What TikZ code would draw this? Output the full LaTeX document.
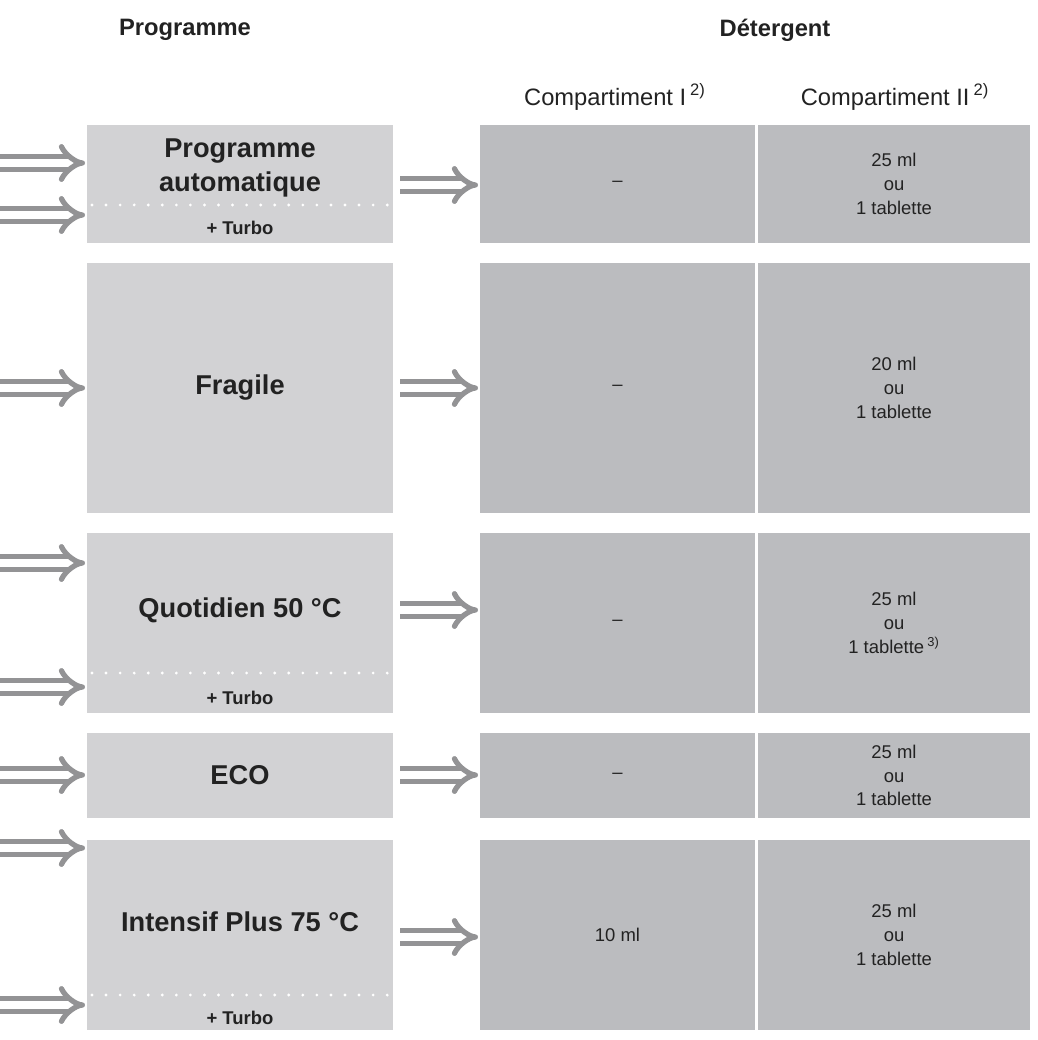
\documentclass[tikz,border=0pt]{standalone}
\usepackage{fontspec}
\setmainfont{Liberation Sans}
\usetikzlibrary{arrows.meta,positioning}
\definecolor{progfill}{HTML}{D2D2D4}
\definecolor{detfill}{HTML}{BBBCBF}
\definecolor{arrowgray}{HTML}{939395}
\definecolor{ink}{HTML}{222222}
\tikzset{
  prog/.style={ink,draw=none,font=\fontsize{15.5}{19.5}\selectfont\bfseries,align=center},
  det/.style={ink,draw=none,font=\fontsize{10.5}{13.5}\selectfont,align=center},
  head/.style={ink,font=\fontsize{13.5}{16}\selectfont\bfseries},
  colhead/.style={ink,font=\fontsize{13.5}{16}\selectfont},
  turbo/.style={ink,font=\fontsize{10.5}{12}\selectfont\bfseries},
  sep/.style={white,line width=1.8pt,line cap=round,dash pattern=on 0pt off 8pt},
  feed/.style={arrowgray,double=white,double distance=4pt,line width=3pt,
    -{Implies[length=9pt,width=20pt]}}
}
\begin{document}
\begin{tikzpicture}[x=0.02cm,y=-0.02cm]
  \useasboundingbox (0,0) rectangle (1037,1040);
  % headers
  \node[head] (hprog) at (185,30) {Programme};
  \node[head] (hdet) at (775,30) {Détergent};
  \node[colhead] (cI) at (615,97) {Compartiment I\,\textsuperscript{2)}};
  \node[colhead] (cII) at (895,97) {Compartiment II\,\textsuperscript{2)}};
  % program boxes
  \fill[progfill] (87,125) rectangle (393,243);
  \fill[progfill] (87,263) rectangle (393,513);
  \fill[progfill] (87,533) rectangle (393,713);
  \fill[progfill] (87,733) rectangle (393,818);
  \fill[progfill] (87,840) rectangle (393,1030);
  \node[prog] (auto) at (240,168) {Programme\\automatique};
  \node[prog] (frag) at (240,388) {Fragile};
  \node[prog] (quot) at (240,610) {Quotidien 50 °C};
  \node[prog] (eco) at (240,775) {ECO};
  \node[prog] (int) at (240,922) {Intensif Plus 75 °C};
  \foreach \y/\t in {205/228,673/698,995/1018}{
    \draw[sep] (92,\y) -- (392,\y);
    \node[turbo] at (240,\t) {+ Turbo};
  }
  % detergent boxes
  \foreach \a/\b/\n in {125/243/1,263/513/2,533/713/3,733/818/4,840/1030/5}{
    \fill[detfill] (480,\a) rectangle (755,\b);
    \fill[detfill] (758,\a) rectangle (1030,\b);
    \coordinate (dI\n) at (617.5,{(\a+\b)/2});
    \coordinate (dII\n) at (894,{(\a+\b)/2});
  }
  \node[det] (d1a) at (dI1) {--};
  \node[det] (d2a) at (dI2) {--};
  \node[det] (d3a) at (dI3) {--};
  \node[det] (d4a) at (dI4) {--};
  \node[det] (d5a) at (dI5) {10 ml};
  \node[det] (d1b) at (dII1) {25 ml\\ou\\1 tablette};
  \node[det] (d2b) at (dII2) {20 ml\\ou\\1 tablette};
  \node[det] (d3b) at (dII3) {25 ml\\ou\\1 tablette\,\textsuperscript{3)}};
  \node[det] (d4b) at (dII4) {25 ml\\ou\\1 tablette};
  \node[det] (d5b) at (dII5) {25 ml\\ou\\1 tablette};
  % input arrows
  \foreach \y [count=\i] in {163,215,388,563,687,775,848,1005}{
    \coordinate (in\i) at (0,\y);
    \coordinate (tip\i) at (85,\y);
    \draw[feed] (in\i) -- (tip\i);
  }
  % arrows to detergent
  \foreach \y [count=\i] in {185,388,610,775,937}{
    \coordinate (out\i) at (400,\y);
    \coordinate (det\i) at (478,\y);
    \draw[feed] (out\i) -- (det\i);
  }
\end{tikzpicture}
\end{document}
